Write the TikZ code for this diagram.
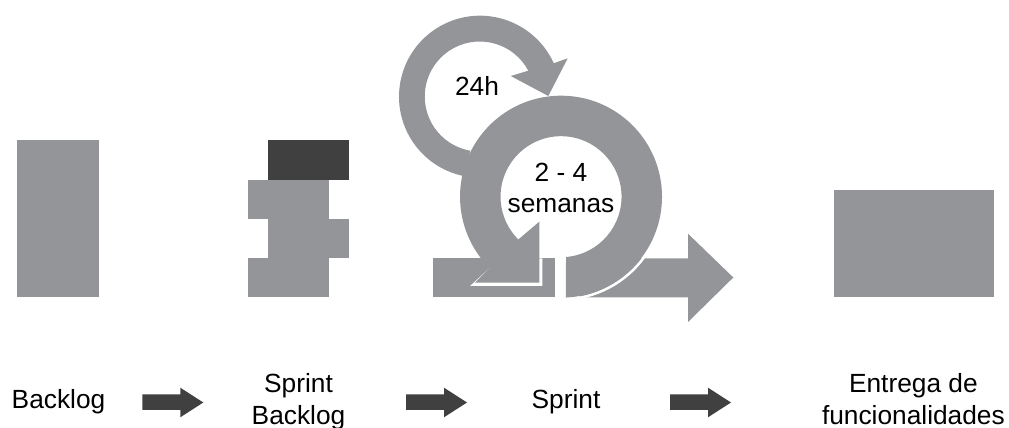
\documentclass[tikz,border=0pt]{standalone}
\usepackage{fontspec}
\setmainfont{Liberation Sans}
\definecolor{blockgrey}{HTML}{939598}
\definecolor{blockdark}{HTML}{404040}
\tikzset{
  greyblock/.style={fill=blockgrey,draw=none},
  darkblock/.style={fill=blockdark,draw=none},
  label/.style={anchor=base,inner sep=0pt,outer sep=0pt,font=\fontsize{26.3}{32}\selectfont,text=black},
}
\begin{document}
\begin{tikzpicture}[x=1pt,y=1pt]
\useasboundingbox (0,0) rectangle (1009,428);
% Backlog block
\fill[greyblock] (17,131) rectangle (99,288);
% Sprint backlog stack
\fill[darkblock] (268,248) rectangle (349,288);
\fill[greyblock] (248,209) rectangle (329,248);
\fill[greyblock] (268,170) rectangle (349,209);
\fill[greyblock] (248,131) rectangle (329,170);
% Delivery block
\fill[greyblock] (834,131) rectangle (994,238);
% Output arrow
\fill[greyblock] (580,130.7) -- (688,130.7) -- (688,106) -- (733.3,150.5) -- (688,194.3) -- (688,169.7) -- (580,169.7) -- cycle;
\draw[white,line width=2.5pt] (561,231.3) ++(-82:102.8) arc[start angle=-82,end angle=-30,radius=102.8];
% Input bar
\fill[greyblock] (432.7,130.7) rectangle (555.3,169.7);
\fill[white] (489.6,159.9) -- (470,142) -- (542.3,142) -- (542.3,169.7) -- (539,169.7) -- cycle;
% 24h cycle
\fill[greyblock] (480,331.3) ++(259:81) arc[start angle=259,end angle=24.4,radius=81]
  -- (567.7,369.7) -- (548.3,332) -- (510.7,352) -- (528.3,357.3)
  arc[start angle=28,end angle=260,radius=55] -- cycle;
% Sprint cycle
\fill[greyblock] (566,171) arc[start angle=-85.3,end angle=225,radius=60.5]
  -- (539.3,206.3) -- (539.3,145.3) -- (475,145.3) -- (489.6,159.9)
  arc[start angle=225,end angle=-87.2,radius=101] -- cycle;
% Labels
\node[label] (n24) at (477,332) {24h};
\node[label] (weeksA) at (561,246.3) {2 - 4};
\node[label] (weeksB) at (561,215.3) {semanas};
\node[label] (backlog) at (58.5,19) {Backlog};
\node[label] (sb1) at (298.5,35) {Sprint};
\node[label] (sb2) at (298.5,3.7) {Backlog};
\node[label] (sprint) at (566,19) {Sprint};
\node[label] (ent1) at (913.4,35) {Entrega de};
\node[label] (ent2) at (913.4,3.7) {funcionalidades};
% Flow arrows
\fill[darkblock] (142.3,18) -- (180.3,18) -- (180.3,10.7) -- (203.3,25.5) -- (180.3,40.3) -- (180.3,33.7) -- (142.3,33.7) -- cycle;
\fill[darkblock] (406,18) -- (444,18) -- (444,10.7) -- (467,25.5) -- (444,40.3) -- (444,33.7) -- (406,33.7) -- cycle;
\fill[darkblock] (670,18) -- (708,18) -- (708,10.7) -- (731,25.5) -- (708,40.3) -- (708,33.7) -- (670,33.7) -- cycle;
\end{tikzpicture}
\end{document}
